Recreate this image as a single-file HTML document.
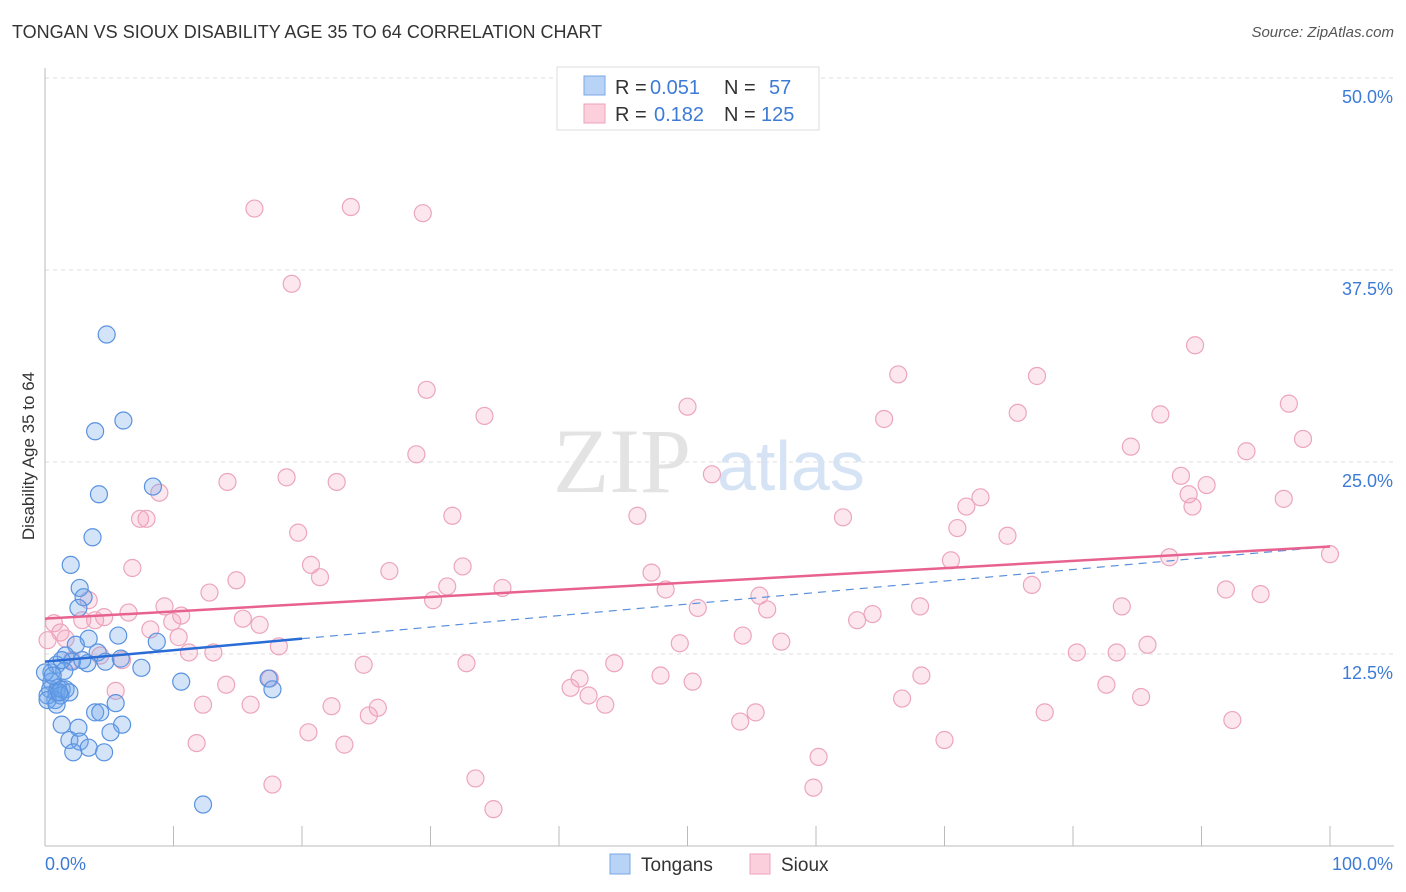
<!DOCTYPE html>
<html><head><meta charset="utf-8">
<style>
body{margin:0;background:#fff;font-family:"Liberation Sans",sans-serif;}
#wrap{position:relative;width:1406px;height:892px;overflow:hidden;}
.t{position:absolute;white-space:nowrap;}
</style></head><body>
<div id="wrap">
<div class="t" style="left:12px;top:22px;font-size:18px;color:#333;">TONGAN VS SIOUX DISABILITY AGE 35 TO 64 CORRELATION CHART</div>
<div class="t" style="right:12px;top:24px;font-size:15px;color:#555;font-style:italic;">Source: ZipAtlas.com</div>
<svg id="chart" width="1406" height="892" style="position:absolute;left:0;top:0"></svg>
</div>
<script>
const xTicks=[0,10,20,30,40,50,60,70,80,90,100];
const yTicks=[12.5,25,37.5,50];
const tonganX=[4.8,6.1,3.9,8.4,4.2,3.7,2.0,2.7,3.0,2.6,5.7,3.4,8.7,2.4,4.1,1.6,5.9,2.1,4.7,3.3,0.9,7.5,0.5,1.5,10.6,17.4,17.7,0.5,1.0,0.4,0.9,1.3,1.6,0.8,5.5,3.9,4.3,1.3,6.0,2.6,1.9,2.7,5.1,3.4,2.2,4.6,12.3,0.2,1.2,0.0,0.6,1.9,2.9,1.3,0.2,0.9,1.1];
const tonganY=[33.3,27.7,27.0,23.4,22.9,20.1,18.3,16.8,16.2,15.5,13.7,13.5,13.3,13.1,12.6,12.4,12.2,12.0,12.0,11.9,11.8,11.6,11.3,11.4,10.7,10.9,10.2,10.7,10.3,10.2,10.0,10.2,10.2,9.5,9.3,8.7,8.7,7.9,7.9,7.7,6.9,6.8,7.4,6.4,6.1,6.1,2.7,9.8,9.8,11.3,11.1,10.0,12.1,12.1,9.5,9.2,10.0];
const siouxX=[16.3,23.8,29.4,19.2,89.5,29.7,66.4,77.2,50.0,96.8,34.2,65.3,75.7,86.8,97.9,84.5,93.5,28.9,51.9,88.4,18.8,14.2,22.7,8.9,90.4,72.8,89.0,96.4,71.7,89.3,31.7,46.1,62.1,7.4,7.9,71.0,19.7,74.9,70.5,87.5,100,32.5,20.7,6.8,26.8,47.2,21.4,14.9,31.3,35.6,76.8,48.3,12.8,91.9,94.6,3.4,30.2,55.6,9.3,68.1,50.8,83.8,56.2,6.5,10.6,4.6,64.4,63.2,15.4,2.9,0.7,16.7,9.9,8.2,3.9,1.2,10.4,54.3,49.4,57.3,1.6,18.2,85.8,80.3,83.4,11.2,13.1,4.3,2.1,6.0,32.8,24.8,44.3,41.6,47.9,68.2,50.4,17.5,14.1,40.9,82.6,42.3,85.3,5.5,66.7,43.6,12.3,16.0,22.3,25.9,25.2,55.3,77.8,54.1,92.4,20.5,70.0,11.8,23.3,60.2,33.5,17.7,59.8,34.9,0.2];
const siouxY=[41.5,41.6,41.2,36.6,32.6,29.7,30.7,30.6,28.6,28.8,28.0,27.8,28.2,28.1,26.5,26.0,25.7,25.5,24.2,24.1,24.0,23.7,23.7,23.0,23.5,22.7,22.9,22.6,22.1,22.1,21.5,21.5,21.4,21.3,21.3,20.7,20.4,20.2,18.6,18.8,19.0,18.2,18.3,18.1,17.9,17.8,17.5,17.3,16.9,16.8,17.0,16.7,16.5,16.7,16.4,16.0,16.0,16.3,15.6,15.6,15.5,15.6,15.4,15.2,15.0,14.9,15.1,14.7,14.8,14.7,14.5,14.4,14.6,14.1,14.7,13.9,13.6,13.7,13.2,13.3,13.5,13.0,13.1,12.6,12.6,12.6,12.6,12.4,12.1,12.1,11.9,11.8,11.9,10.9,11.1,11.1,10.7,10.9,10.5,10.3,10.5,9.8,9.7,10.1,9.6,9.2,9.2,9.2,9.1,9.0,8.5,8.7,8.7,8.1,8.2,7.4,6.9,6.7,6.6,5.8,4.4,4.0,3.8,2.4,13.4];
const tonganTrend=[12.0,19.5];
const siouxTrend=[14.8,19.5];

const svg=document.getElementById('chart');
const NS='http://www.w3.org/2000/svg';
const X0=45,X1=1330,Y0=846,PXPER=192/12.5;
const sx=v=>X0+(X1-X0)*v/100;
const sy=v=>Y0-v*PXPER;
function mk(tag,attrs,parent){const e=document.createElementNS(NS,tag);for(const k in attrs)e.setAttribute(k,attrs[k]);(parent||svg).appendChild(e);return e;}

// gridlines
yTicks.forEach(t=>{
  const g=mk('line',{x1:X0,x2:1394,y1:sy(t),y2:sy(t),stroke:'#ddd','stroke-dasharray':'4,4'});
  
  
  const tx=mk('text',{x:1393,y:sy(t)+25,'text-anchor':'end','font-size':18,fill:'#3d7bd6','font-family':'Liberation Sans, sans-serif'});
  tx.textContent=t.toFixed(1)+'%';
  
  
});
// axes
const ya=mk('line',{x1:X0,x2:X0,y1:68,y2:Y0,stroke:'#bbb'});


const xa=mk('line',{x1:X0,x2:1394,y1:Y0,y2:Y0,stroke:'#bbb'});


xTicks.forEach(t=>{
  const l=mk('line',{x1:sx(t),x2:sx(t),y1:826,y2:Y0,stroke:'#bbb'});
  
  
});
function label(x,y,txt,anchor,name,color,size){const t=mk('text',{x:x,y:y,'text-anchor':anchor,'font-size':size||18,fill:color,'font-family':'Liberation Sans, sans-serif'});t.textContent=txt;return t;}
label(45,870,'0.0%','start','x-min-label','#3d7bd6');
label(1393,870,'100.0%','end','x-max-label','#3d7bd6');
const yt=label(34,456,'Disability Age 35 to 64','middle','y-axis-title','#333',17);
yt.setAttribute('transform','rotate(-90 34 456)');
// watermark
const wm=mk('text',{x:553,y:492,'font-size':92,fill:'#e3e3e3','font-family':'Liberation Serif, serif'});
wm.textContent='ZIP';


const wm2=mk('text',{x:717,y:490,'font-size':70,fill:'#d5e3f5','font-family':'Liberation Sans, sans-serif'});
wm2.textContent='atlas';



// points
siouxX.forEach((v,i)=>{
  const c=mk('circle',{cx:sx(v),cy:sy(siouxY[i]),r:8.5,fill:'rgba(244,160,188,0.25)',stroke:'#eca5bd','stroke-width':1.2});
  
  
});
tonganX.forEach((v,i)=>{
  const c=mk('circle',{cx:sx(v),cy:sy(tonganY[i]),r:8.5,fill:'rgba(110,165,235,0.3)',stroke:'#5a92e0','stroke-width':1.2});
  
  
});
// trend lines
const tv=x=>tonganTrend[0]+(tonganTrend[1]-tonganTrend[0])*x/100;
const td=mk('line',{x1:sx(20),y1:sy(tv(20)),x2:sx(100),y2:sy(tv(100)),stroke:'#5a8fdc','stroke-width':1.2,'stroke-dasharray':'8,6'});


const ts=mk('line',{x1:sx(0),y1:sy(tv(0)),x2:sx(20),y2:sy(tv(20)),stroke:'#2a6cd6','stroke-width':2.5});


const sl=mk('line',{x1:sx(0),y1:sy(siouxTrend[0]),x2:sx(100),y2:sy(siouxTrend[1]),stroke:'#e8628f','stroke-width':2.5});



// top legend
const lb=mk('rect',{x:557,y:67,width:262,height:63,fill:'#fff',stroke:'#ddd'});


const s1=mk('rect',{x:584,y:76,width:21,height:19,fill:'#b8d3f5',stroke:'#7aa7e6'});


const s2=mk('rect',{x:584,y:104,width:21,height:19,fill:'#fbcfdc',stroke:'#eea3bb'});


label(615,94,'R =','start','legend-r-label','#333',20);
label(650,94,'0.051','start','legend-r-tongans','#3d7bd6',20);
label(724,94,'N =','start','legend-n-label','#333',20);
label(769,94,'57','start','legend-n-tongans','#3d7bd6',20);
label(615,121,'R =','start','legend-r-label','#333',20);
label(654,121,'0.182','start','legend-r-sioux','#3d7bd6',20);
label(724,121,'N =','start','legend-n-label','#333',20);
label(761,121,'125','start','legend-n-sioux','#3d7bd6',20);

// bottom legend
const b1=mk('rect',{x:610,y:854,width:20,height:20,fill:'#b8d3f5',stroke:'#7aa7e6'});


label(641,871,'Tongans','start','legend-tongans','#333',19);
const b2=mk('rect',{x:750,y:854,width:20,height:20,fill:'#fbcfdc',stroke:'#eea3bb'});


label(781,871,'Sioux','start','legend-sioux','#333',19);
</script>
</body></html>
